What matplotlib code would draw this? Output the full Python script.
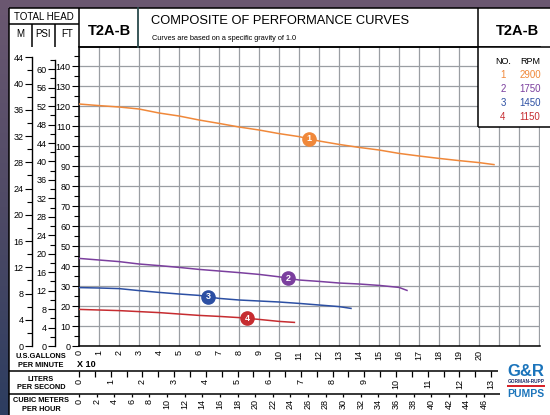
import numpy as np
import matplotlib
matplotlib.use("Agg")
import matplotlib.pyplot as plt
from matplotlib import font_manager
from matplotlib.patches import Rectangle
from matplotlib.colors import LinearSegmentedColormap

W, H = 550, 415

# --- chart data (flow in US GPM x 10, head in feet) ---
flow_1 = [0, 1, 2, 3, 4, 5, 6, 7, 8, 9, 10, 11, 12, 13, 14, 15, 16, 17, 18, 19, 20, 20.75]
head_1 = [121, 120.2, 119.5, 118.5, 116.5, 115, 113, 111.3, 109.5, 108, 106.2, 104.7,
          102.5, 100.8, 99.3, 98, 96.3, 95, 93.8, 92.7, 91.7, 90.7]
flow_2 = [0, 1, 2, 3, 4, 5, 6, 7, 8, 9, 10, 11, 12, 13, 14, 15, 16, 16.4]
head_2 = [43.8, 43, 42.2, 41, 40.2, 39.3, 38.3, 37.5, 36.7, 35.8, 34.6, 33, 32.3,
          31.5, 31, 30.3, 29.3, 27.8]
flow_3 = [0, 1, 2, 3, 4, 5, 6, 7, 8, 9, 10, 11, 12, 13, 13.6]
head_3 = [29.2, 29, 28.7, 27.7, 26.8, 26, 25.3, 23.8, 23, 22.5, 22, 21.3, 20.5, 19.7, 18.8]
flow_4 = [0, 1, 2, 3, 4, 5, 6, 7, 8, 9, 10, 10.77]
head_4 = [18.3, 18, 17.7, 17.2, 16.7, 16, 15.3, 14.8, 14.2, 13.3, 12.3, 11.8]

curve_no = ["1", "2", "3", "4"]
curve_rpm = ["2900", "1750", "1450", "1150"]
curve_colors = ["#f0883a", "#7b3f9e", "#2c4fa3", "#c62c30"]
badge_flow = [11.5, 10.45, 6.45, 8.4]

gpm_labels = list(range(0, 21))
lps_labels = list(range(0, 14))
m3h_labels = list(range(0, 47, 2))
ft_ticks = list(range(0, 141, 10))
psi_ticks = list(range(0, 61, 4))
m_ticks = list(range(0, 45, 4))

FT_PER_M = 3.2808
FT_PER_PSI = 2.3067
GPM_PER_LPS = 15.850
GPM_PER_M3H = 4.4029

XMAX = 23.05
YMAX = 149.5

try:
    font_manager.findfont("Liberation Sans Narrow", fallback_to_default=False)
    NARROW = "Liberation Sans Narrow"
except ValueError:
    NARROW = "Liberation Sans"

plt.rcParams["font.family"] = ["Liberation Sans", "DejaVu Sans"]

fig = plt.figure(figsize=(W / 100, H / 100), dpi=100)

# background frame + white page
bg = fig.add_axes([0, 0, 1, 1], zorder=0)
bg.set_xlim(0, W)
bg.set_ylim(H, 0)
bg.axis("off")
grad_cmap = LinearSegmentedColormap.from_list("frame", ["#6b5871", "#4f4a66", "#2d3d60"])
bg.imshow(np.linspace(0, 1, 200).reshape(-1, 1), extent=[0, W, H, 0], cmap=grad_cmap,
          aspect="auto", zorder=0)
bg.add_patch(Rectangle((9, 8), W - 9, H - 8, facecolor="white", edgecolor="none", zorder=1))


def px_axes(x0, y0, x1, y1, zorder):
    return fig.add_axes([x0 / W, (H - y1) / H, (x1 - x0) / W, (y1 - y0) / H], zorder=zorder)


# main plot
ax = px_axes(79, 47, 540, 346, 1)
ax.set_facecolor("white")
ax.set_xlim(0, XMAX)
ax.set_ylim(0, YMAX)
ax.set_xticks(range(0, 24))
ax.set_xticklabels([str(v) if v in gpm_labels else "" for v in range(0, 24)],
                   rotation=90, fontsize=6.5, family=NARROW)
ax.set_yticks(ft_ticks)
ax.set_yticks(list(range(5, 146, 10)), minor=True)
ax.set_yticklabels([str(v) for v in ft_ticks], fontsize=6.5, family=NARROW)
ax.tick_params(axis="x", length=0, pad=3)
ax.tick_params(axis="y", which="major", length=5, width=0.8, pad=1)
ax.tick_params(axis="y", which="minor", length=3.5, width=0.8)
ax.grid(True, which="major", color="#9a9ea3", linewidth=0.9)
ax.set_axisbelow(True)
ax.spines["right"].set_visible(False)
for s in ["left", "bottom", "top"]:
    ax.spines[s].set_linewidth(1.1)

flows = [flow_1, flow_2, flow_3, flow_4]
heads = [head_1, head_2, head_3, head_4]
for fl, hd, col, no, bx in zip(flows, heads, curve_colors, curve_no, badge_flow):
    ax.plot(fl, hd, color=col, linewidth=1.1, zorder=3)
    by = np.interp(bx, fl, hd)
    ax.plot([bx], [by], "o", markersize=9.5, color=col, zorder=4)
    ax.text(bx, by, no, color="white", fontsize=6.5, fontweight="bold",
            ha="center", va="center", zorder=5)


# M and PSI scales on the left
def side_scale(px, top, major, minor, bound):
    a = px_axes(px, 47, px + 0.01, 346, 2)
    a.set_facecolor("none")
    for s in ["top", "right", "bottom"]:
        a.spines[s].set_visible(False)
    a.spines["left"].set_bounds(0, bound)
    a.spines["left"].set_linewidth(1.0)
    a.set_ylim(0, top)
    a.set_xticks([])
    a.set_yticks(major)
    a.set_yticks(minor, minor=True)
    a.set_yticklabels([str(v) for v in major], fontsize=6.5, family=NARROW)
    a.tick_params(axis="y", which="major", length=5, width=0.8, pad=1)
    a.tick_params(axis="y", which="minor", length=3.5, width=0.8)
    return a


side_scale(32, YMAX / FT_PER_M, m_ticks, list(range(2, 43, 4)), 44)
side_scale(55, YMAX / FT_PER_PSI, psi_ticks, list(range(2, 63, 4)), 62)


# liters per second and cubic meters per hour scales
def bottom_scale(py, per, major, minor, length):
    a = px_axes(79, py - 0.01, 540, py, 2)
    a.set_facecolor("none")
    for s in a.spines.values():
        s.set_visible(False)
    a.set_xlim(0, XMAX * 10 / per)
    a.set_yticks([])
    a.set_xticks(major)
    a.set_xticklabels([str(v) for v in major], rotation=90, fontsize=6.5, family=NARROW)
    if minor:
        a.set_xticks(minor, minor=True)
    a.tick_params(axis="x", which="both", length=length, width=0.9, pad=1.5)
    return a


bottom_scale(371, GPM_PER_LPS, lps_labels, [v + 0.5 for v in lps_labels[:-1]], 4)
bottom_scale(394, GPM_PER_M3H, m3h_labels, None, 2)

# overlay: frame lines, header, legend box, labels, logo
ov = fig.add_axes([0, 0, 1, 1], zorder=3)
ov.set_xlim(0, W)
ov.set_ylim(H, 0)
ov.axis("off")
ov.set_facecolor("none")

ov.add_patch(Rectangle((478, 47), 72, 80, facecolor="white", edgecolor="none"))
lk = dict(color="black", linewidth=1.1, solid_capstyle="butt")
ov.plot([9, W], [8, 8], **lk)
ov.plot([9, 9], [8, H], **lk)
ov.plot([9, 79], [24, 24], **lk)
ov.plot([79, W], [47, 47], **lk)
ov.plot([32, 32], [24, 47], **lk)
ov.plot([55, 55], [24, 47], **lk)
ov.plot([79, 79], [8, 47], **lk)
ov.plot([138, 138], [8, 47], color="#2a4a4c", linewidth=1.3)
ov.plot([478, 478], [8, 127], **lk)
ov.plot([478, W], [127, 127], **lk)
ov.plot([9, 498], [371, 371], **lk)
ov.plot([9, 500], [394, 394], **lk)

ov.text(44, 16.5, "TOTAL HEAD", fontsize=7, ha="center", va="center")
ov.text(20, 34, "M", fontsize=7, ha="center", va="center")
ov.text(43.5, 34, "PSI", fontsize=7, ha="center", va="center")
ov.text(67, 34, "FT", fontsize=7, ha="center", va="center")
ov.text(109, 31, "T2A-B", fontsize=10.5, fontweight="bold", ha="center", va="center")
ov.text(517, 31, "T2A-B", fontsize=10.5, fontweight="bold", ha="center", va="center")
ov.text(151, 20.5, "COMPOSITE OF PERFORMANCE CURVES", fontsize=9.3, family=NARROW,
        ha="left", va="center")
ov.text(152, 38, "Curves are based on a specific gravity of 1.0", fontsize=5.3,
        ha="left", va="center")

ov.text(503, 61, "NO.", fontsize=6.5, ha="center", va="center")
ov.text(530, 61, "RPM", fontsize=6.5, ha="center", va="center")
for i, (no, rpm, col) in enumerate(zip(curve_no, curve_rpm, curve_colors)):
    yy = 74.5 + i * 14
    ov.text(503, yy, no, fontsize=7, color=col, ha="center", va="center")
    ov.text(530, yy, rpm, fontsize=7, color=col, ha="center", va="center")

lbl = dict(fontsize=5.3, fontweight="bold", ha="center", va="center", family=NARROW)
ov.text(41, 356.5, "U.S.GALLONS", **lbl)
ov.text(41, 365.5, "PER MINUTE", **lbl)
ov.text(77, 364.5, "X 10", fontsize=6.5, fontweight="bold", ha="left", va="center",
        family=NARROW)
ov.text(41, 379, "LITERS", **lbl)
ov.text(41, 387.5, "PER SECOND", **lbl)
ov.text(41, 400, "CUBIC METERS", **lbl)
ov.text(41, 409, "PER HOUR", **lbl)

ov.text(526, 371, "G&R", fontsize=12, fontweight="bold", color="#1b74bb",
        ha="center", va="center")
ov.text(526, 381.5, "GORMAN-RUPP", fontsize=3.4, fontweight="bold", color="#1d2f6a",
        ha="center", va="center")
ov.add_patch(Rectangle((507, 384.5), 38, 2.3, facecolor="#d8232a", edgecolor="none"))
ov.text(526, 393.5, "PUMPS", fontsize=7.5, fontweight="bold", color="#1b74bb",
        ha="center", va="center")

fig.savefig("out.png", dpi=100)
